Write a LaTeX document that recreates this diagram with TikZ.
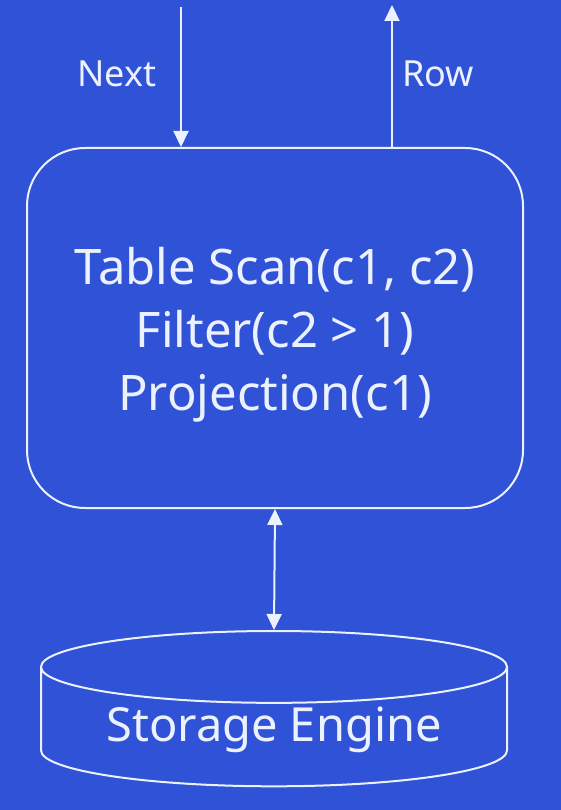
\documentclass[tikz,border=0pt]{standalone}
\usepackage{fontspec}
\setmainfont{Noto Sans}
\usetikzlibrary{arrows.meta,shapes.geometric}
\definecolor{slideblue}{RGB}{47,82,214}
\definecolor{chalk}{RGB}{236,241,255}

\begin{document}
\begin{tikzpicture}[
    x=1pt, y=-1pt,
    operator/.style={draw=chalk, line width=2pt, rounded corners=58pt, minimum width=496pt, minimum height=360pt},
    op text/.style={text=chalk, align=center, font=\fontsize{49}{63}\selectfont},
    storage/.style={cylinder, shape border rotate=90, draw=chalk, line width=2pt, aspect=0.21, minimum width=466pt, minimum height=140pt, text=chalk, font=\fontsize{47}{56}\selectfont},
    flow/.style={draw=chalk, line width=2pt, -{Triangle[width=15pt,length=16pt]}},
    call label/.style={text=chalk, font=\fontsize{36}{43}\selectfont}
]
\useasboundingbox (0,0) rectangle (560,810);

% Background
\fill[slideblue] (-4,-4) rectangle (564,814);

% Operator box
\node[operator] (scan) at (275,328) {};
\node[op text] (scantext) at ([yshift=-7pt]scan.center) {Table Scan(c1, c2)\\Filter(c2 > 1)\\Projection(c1)};

% Storage
\node[storage, anchor=north] (engine) at (274,630) {Storage Engine};

% Next / Row
\coordinate (nexttop) at (181,7);
\coordinate (rowtop) at (392,5);
\draw[flow] (nexttop) -- (nexttop |- scan.north);
\draw[flow] (rowtop |- scan.north) -- (rowtop);
\node[call label, anchor=base] (nextlabel) at (117,87) {Next};
\node[call label, anchor=base] (rowlabel) at (438,87) {Row};

\draw[flow, {Triangle[width=15pt,length=16pt]}-{Triangle[width=15pt,length=16pt]}] (scan.south) -- (engine.north);

\end{tikzpicture}
\end{document}
